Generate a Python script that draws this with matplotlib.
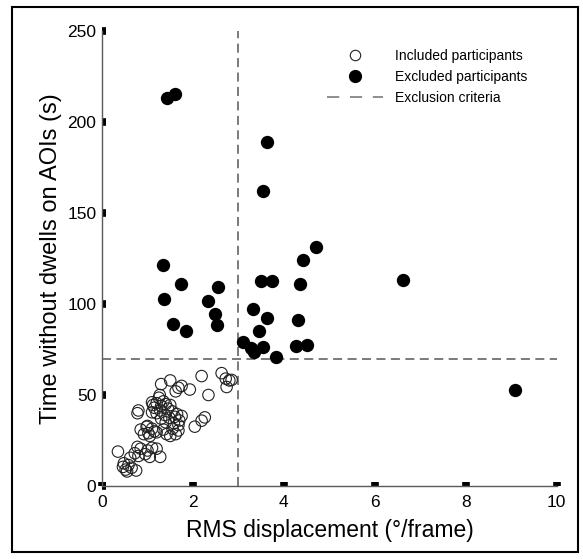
from __future__ import annotations

import matplotlib

matplotlib.use("Agg")
from matplotlib import pyplot as plt
from matplotlib.lines import Line2D
from matplotlib.patches import Rectangle


# Included participants (open circles): RMS displacement (deg/frame), time without dwells (s)
INCLUDED_RMS = [
    0.35, 0.46, 0.48, 0.52, 0.55, 0.58, 0.65, 0.75, 0.62, 0.72, 0.80, 0.85, 0.95, 1.05, 1.10,
    1.20, 1.28, 1.00, 0.78,
    0.80, 0.78, 0.85, 0.92, 0.98, 1.02, 1.05, 1.10, 1.15, 1.00, 1.20, 1.35, 1.42, 1.50, 1.62,
    1.55, 1.68,
    1.10, 1.15, 1.20, 1.25, 1.30, 1.35, 1.40, 1.45, 1.50, 1.55, 1.60, 1.65, 1.70, 1.75, 1.20,
    1.28, 1.38, 1.48, 1.58, 1.68, 1.40, 1.30, 1.10, 1.12,
    1.30, 1.50, 1.27, 1.68, 1.75, 1.93, 1.62, 2.19, 2.63, 2.72, 2.80, 2.85, 2.74, 2.34, 2.26,
    2.19, 2.04,
]
INCLUDED_TIME = [
    18.9, 10.5, 12.5, 9.0, 8.0, 11.5, 10.0, 8.5, 15.5, 18.0, 16.5, 20.5, 17.5, 16.0, 21.0,
    20.5, 16.0, 19.5, 21.5,
    41.5, 40.0, 31.0, 28.5, 32.5, 29.0, 27.5, 31.5, 30.0, 33.0, 29.5, 31.0, 28.5, 27.5, 28.5,
    31.5, 30.5,
    46.0, 43.0, 45.5, 48.5, 44.0, 46.5, 45.0, 42.5, 44.5, 41.0, 38.0, 39.5, 36.0, 38.5, 40.0,
    41.5, 39.0, 37.5, 34.5, 33.5, 35.0, 37.0, 40.5, 44.5,
    56.0, 58.0, 50.0, 54.0, 55.0, 53.0, 52.0, 60.4, 62.0, 59.0, 58.0, 58.3, 54.4, 50.0, 37.7,
    35.9, 32.6,
]

# Excluded participants (filled circles)
EXCLUDED_RMS = [
    1.42, 1.60, 3.63, 3.53, 1.33, 1.74, 1.37, 2.56, 2.33, 2.49, 2.53, 1.55, 1.85,
    4.70, 4.42, 4.35, 3.50, 3.74, 3.33, 3.63, 4.30, 3.46, 3.11, 3.28, 3.35, 3.54, 3.82,
    4.26, 4.51, 6.61, 9.08,
]
EXCLUDED_TIME = [
    213.0, 215.2, 189.2, 162.1, 121.4, 111.0, 102.6, 109.5, 101.8, 94.5, 88.3, 88.8, 85.4,
    131.3, 124.2, 110.8, 112.5, 112.5, 97.4, 92.5, 91.4, 85.0, 79.3, 76.0, 73.5, 76.2, 71.1,
    76.9, 77.3, 113.4, 52.6,
]

RMS_CRITERION = 3.0
TIME_CRITERION = 70.0
X_TICKS = [0, 2, 4, 6, 8, 10]
Y_TICKS = [0, 50, 100, 150, 200, 250]
LEGEND_LABELS = ["Included participants", "Excluded participants", "Exclusion criteria"]

DASH_COLOR = "#6f6f6f"
SPINE_COLOR = "#5a5a5a"


def main() -> None:
    plt.rcParams.update(
        {
            "font.family": ["Liberation Sans", "DejaVu Sans"],
            "font.size": 12.5,
        }
    )

    figure = plt.figure(figsize=(5.83, 5.59), dpi=100)
    axis = figure.add_axes([0.175, 0.1306, 0.780, 0.8139])

    axis.scatter(
        INCLUDED_RMS, INCLUDED_TIME, s=68, facecolors="none", edgecolors="#222222",
        linewidths=0.8, zorder=3,
    )
    axis.scatter(EXCLUDED_RMS, EXCLUDED_TIME, s=92, color="black", linewidths=0, zorder=3)

    dash_style = (0, (5, 3))
    axis.plot([RMS_CRITERION, RMS_CRITERION], [0, 250], color=DASH_COLOR, lw=1.3,
              linestyle=dash_style, zorder=2)
    axis.plot([0, 10], [TIME_CRITERION, TIME_CRITERION], color=DASH_COLOR, lw=1.3,
              linestyle=dash_style, zorder=2)

    axis.set_xlim(0, 10)
    axis.set_ylim(0, 250)
    axis.set_xticks(X_TICKS)
    axis.set_yticks(Y_TICKS)
    axis.tick_params(direction="in", length=2.6, width=5.5, color="black", labelsize=12.5)
    axis.tick_params(axis="x", pad=6.8)
    axis.tick_params(axis="y", pad=4.0)
    for side in ("top", "right"):
        axis.spines[side].set_visible(False)
    for side in ("left", "bottom"):
        axis.spines[side].set_color(SPINE_COLOR)
        axis.spines[side].set_linewidth(1.0)

    axis.set_xlabel("RMS displacement (°/frame)", fontsize=16.5, labelpad=6)
    axis.set_ylabel("Time without dwells on AOIs (s)", fontsize=17, labelpad=4)

    # legend: handles built by hand so the dashed sample shows three dashes
    handles = [
        Line2D([], [], linestyle="none", marker="o", markersize=7.5, markerfacecolor="none",
               markeredgecolor="#222222", markeredgewidth=0.8),
        Line2D([], [], linestyle="none", marker="o", markersize=8.5, color="black"),
        Line2D([], [], color=DASH_COLOR, lw=1.1, linestyle=(0, (8, 7))),
    ]
    figure.legend(
        handles, LEGEND_LABELS, loc="upper left", bbox_to_anchor=(327 / 583, 1 - 49 / 559),
        frameon=False, fontsize=10, handlelength=4.0, handletextpad=0.9, borderpad=0,
        borderaxespad=0, labelspacing=0.5,
    )

    figure.patches.append(
        Rectangle((0.021, 0.012), 0.970, 0.976, transform=figure.transFigure, fill=False,
                  edgecolor="black", linewidth=1.5)
    )

    figure.savefig("out.png", dpi=100, facecolor="white")
    plt.close(figure)


if __name__ == "__main__":
    main()
